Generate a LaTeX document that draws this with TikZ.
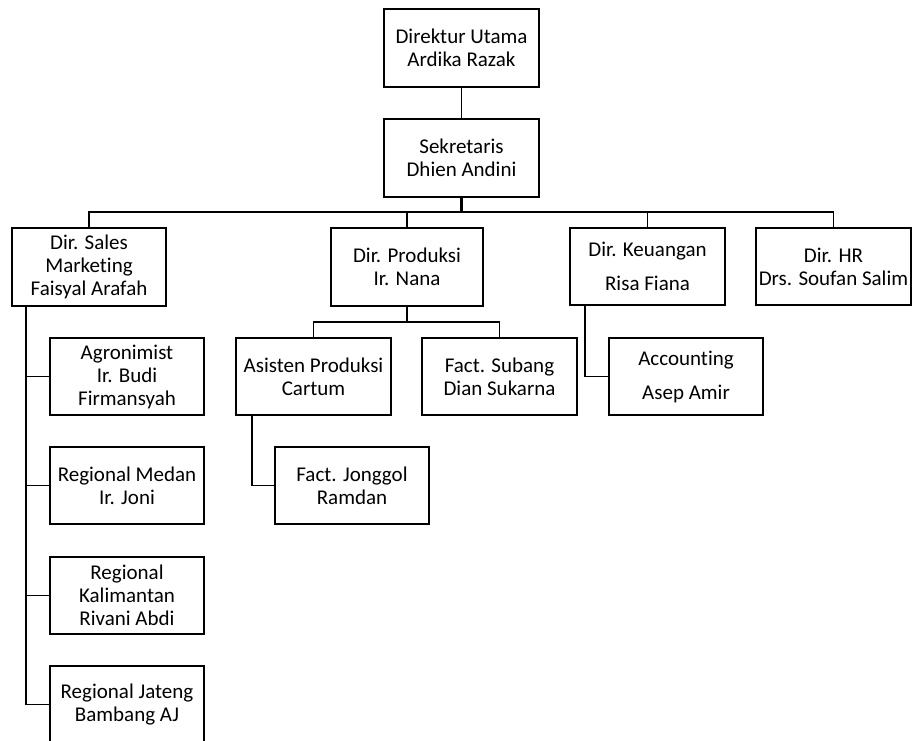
\documentclass[tikz,border=0pt]{standalone}
\usepackage{fontspec}
\setmainfont[Ligatures=NoCommon]{Carlito}
\begin{document}
\begin{tikzpicture}[x=1pt,y=-1pt,
  box/.style={draw=black,line width=1.8pt,minimum height=78pt,inner sep=0pt,align=center,
    font=\fontsize{21}{23}\selectfont},
  conn/.style={draw=black,line width=1.4pt},
  thick conn/.style={draw=black,line width=2.3pt}]
\clip (0,0) rectangle (912,740);
\fill[white] (0,0) rectangle (912,740);
% nodes
\node[box,minimum width=155pt] (dir) at (461.5,48) {Direktur Utama\\Ardika Razak};
\node[box,minimum width=155pt] (sek) at (461.5,158) {Sekretaris\\Dhien Andini};
\node[box,minimum width=154pt] (sales) at (89,267) {Dir. Sales\\Marketing\\Faisyal Arafah};
\node[box,minimum width=152pt] (prod) at (407,267) {Dir. Produksi\\Ir. Nana};
\node[box,minimum width=155pt,minimum height=77pt] (keu) at (647.5,266.5) {Dir. Keuangan\\[11pt]Risa Fiana};
\node[box,minimum width=155pt,minimum height=77pt] (hr) at (833.5,266.5) {Dir. HR\\Drs. Soufan Salim};
\node[box,minimum width=154pt,minimum height=77pt] (agro) at (127,376.5) {Agronimist\\Ir. Budi\\Firmansyah};
\node[box,minimum width=154pt,minimum height=77pt] (medan) at (127,485.5) {Regional Medan\\Ir. Joni};
\node[box,minimum width=154pt,minimum height=77pt] (kal) at (127,595.5) {Regional\\Kalimantan\\Rivani Abdi};
\node[box,minimum width=154pt,minimum height=77pt] (jateng) at (127,704.5) {Regional Jateng\\Bambang AJ};
\node[box,minimum width=155pt,minimum height=77pt] (asisten) at (313.5,376.5) {Asisten Produksi\\Cartum};
\node[box,minimum width=155pt,minimum height=77pt] (subang) at (499.5,376.5) {Fact. Subang\\Dian Sukarna};
\node[box,minimum width=154pt,minimum height=77pt] (jonggol) at (352,485.5) {Fact. Jonggol\\Ramdan};
\node[box,minimum width=154pt,minimum height=77pt] (acc) at (686,376.5) {Accounting\\[11pt]Asep Amir};
% helper coordinates
\coordinate (bus) at (0,212);
\coordinate (pbus) at (0,322);
\coordinate (sx) at (26,0);
\coordinate (ax) at (252,0);
\coordinate (kx) at (585,0);
% connectors
\draw[conn] (dir.south) -- (sek.north);
\draw[thick conn] (sek.south) -- (sek.south |- bus);
\draw[conn] (sales.north) -- (sales.north |- bus) -- (hr.north |- bus) -- (hr.north);
\draw[conn] (prod.north) -- (prod.north |- bus);
\draw[conn] (keu.north) -- (keu.north |- bus);
\draw[thick conn] (prod.south) -- (prod.south |- pbus);
\draw[conn] (asisten.north) -- (asisten.north |- pbus) -- (subang.north |- pbus) -- (subang.north);
\draw[conn] (ax |- asisten.south) -- (ax |- jonggol.west) -- (jonggol.west);
\draw[thick conn] (sx |- sales.south) -- (sx |- jateng.west);
\draw[conn] (sx |- jateng.west) -- (jateng.west);
\draw[conn] (sx |- agro.west) -- (agro.west);
\draw[conn] (sx |- medan.west) -- (medan.west);
\draw[conn] (sx |- kal.west) -- (kal.west);
\draw[conn] (kx |- keu.south) -- (kx |- acc.west) -- (acc.west);
\end{tikzpicture}
\end{document}
